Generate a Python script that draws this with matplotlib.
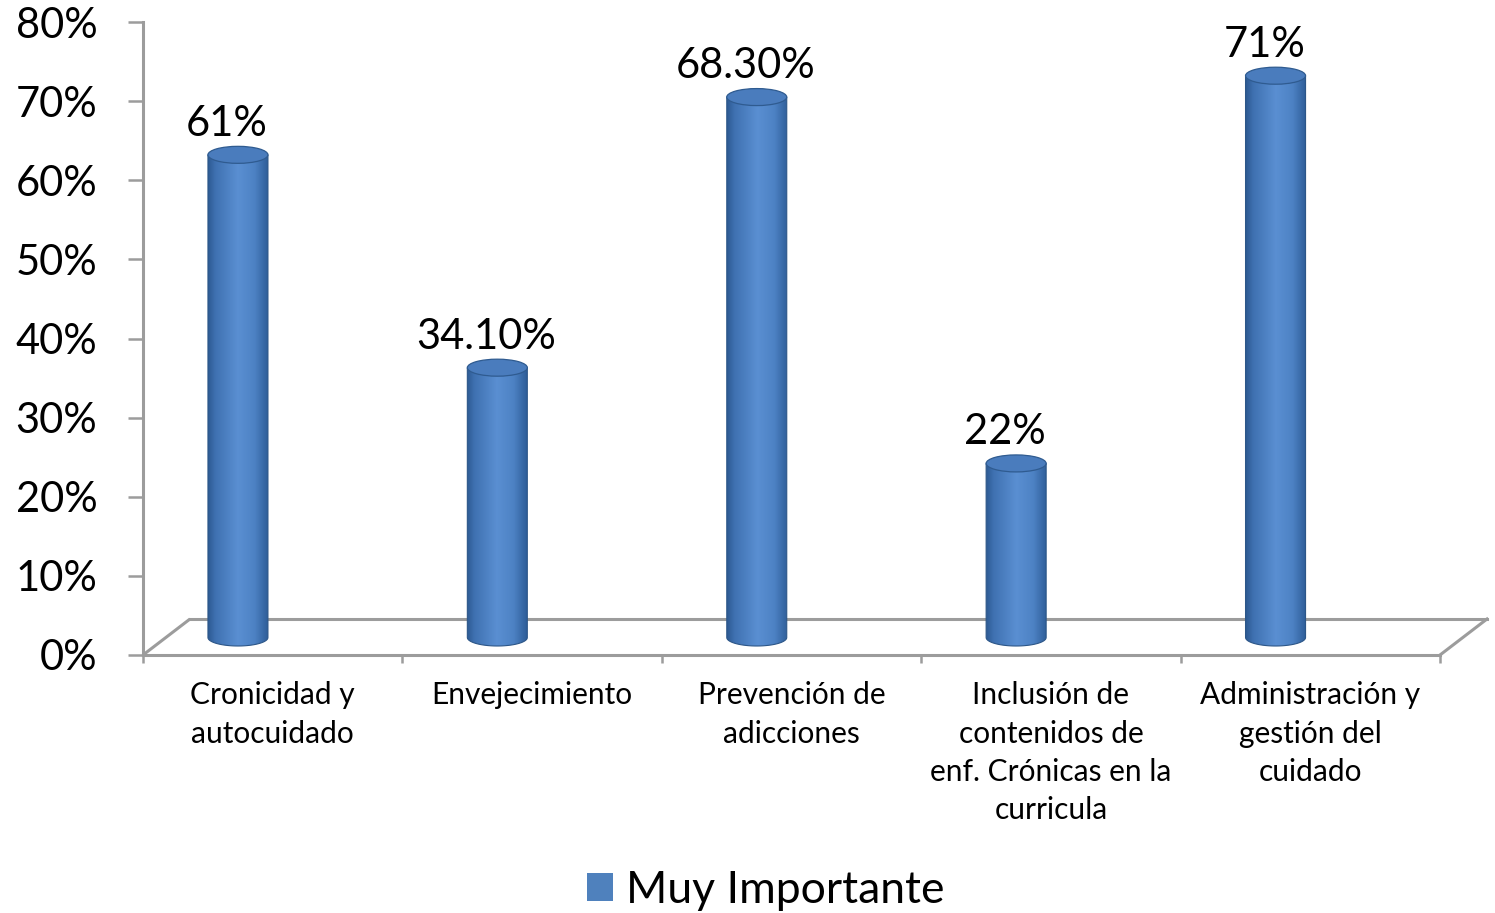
import numpy as np
import matplotlib
matplotlib.use("Agg")
import matplotlib.pyplot as plt
from matplotlib.path import Path
from matplotlib.patches import PathPatch, Ellipse, Patch
from matplotlib.colors import LinearSegmentedColormap

plt.rcParams['font.family'] = ['Lato', 'DejaVu Sans']

# data
categories = ["Cronicidad y\nautocuidado", "Envejecimiento", "Prevención de\nadicciones",
              "Inclusión de\ncontenidos de\nenf. Crónicas en la\ncurricula",
              "Administración y\ngestión del\ncuidado"]
values = [61, 34.1, 68.3, 22, 71]
value_labels = ["61%", "34.10%", "68.30%", "22%", "71%"]
yticks = [0, 10, 20, 30, 40, 50, 60, 70, 80]
ytick_labels = ["0%", "10%", "20%", "30%", "40%", "50%", "60%", "70%", "80%"]
series_name = "Muy Importante"

W, H = 1495, 913
fig = plt.figure(figsize=(W / 100, H / 100), dpi=100)
ax = fig.add_axes([143 / W, (H - 655) / H, 1297 / W, 633 / H])

n = len(categories)
px_x = 1297 / n          # pixels per category
px_y = 633 / 80          # pixels per percent
gray = '#9c9c9c'

# fake 3d floor
dx = 47 / px_x
dy = 36 / px_y
ax.plot([0, dx], [0, dy], color=gray, lw=2.2, clip_on=False, zorder=1, solid_capstyle='butt')
ax.plot([dx, n + dx], [dy, dy], color=gray, lw=2.2, clip_on=False, zorder=1)
ax.plot([n, n + dx], [0, dy], color=gray, lw=2.2, clip_on=False, zorder=1)

# cylinders
cmap = LinearSegmentedColormap.from_list("cyl", [
    (0.0, '#2d5a93'), (0.12, '#3f71b1'), (0.5, '#5a8fd2'),
    (0.78, '#4d82c4'), (1.0, '#2f5e99')])
grad = np.linspace(0, 1, 200).reshape(1, -1)
bw = 60 / px_x
eh = 17 / px_y
y0 = 17.5 / px_y
xoff = 0.366
for i, v in enumerate(values):
    cx = i + xoff
    y1 = y0 + v
    t = np.linspace(np.pi, 2 * np.pi, 60)
    xs = np.concatenate([[cx - bw / 2], cx + bw / 2 * np.cos(t), [cx + bw / 2]])
    ys = np.concatenate([[y1], y0 + eh / 2 * np.sin(t), [y1]])
    verts = np.column_stack([xs, ys])
    verts = np.vstack([verts, verts[:1]])
    path = Path(verts, closed=True)
    body = PathPatch(path, facecolor='none', edgecolor='#2c5688', lw=0.8, zorder=4)
    ax.add_patch(body)
    im = ax.imshow(grad, cmap=cmap, aspect='auto', zorder=3,
                   extent=[cx - bw / 2, cx + bw / 2, y0 - eh / 2, y1], interpolation='bilinear')
    im.set_clip_path(body)
    top = Ellipse((cx, y1), bw, eh, facecolor='#4a7cbd', edgecolor='#2f5b90', lw=0.9, zorder=5)
    ax.add_patch(top)
    ax.text(cx - 11 / px_x, y1 + 19 / px_y, value_labels[i], ha='center', va='baseline',
            fontsize=30, color='black', zorder=6)

ax.set_xlim(0, n)
ax.set_ylim(0, 80)

for s in ['top', 'right']:
    ax.spines[s].set_visible(False)
for s in ['left', 'bottom']:
    ax.spines[s].set_color(gray)
    ax.spines[s].set_linewidth(2.2)
ax.spines['left'].set_zorder(2)

ax.set_yticks(yticks)
ax.set_yticklabels(ytick_labels, fontsize=30)
ax.tick_params(axis='y', length=10.8, width=1.8, color=gray, pad=22)

ax.set_xticks(range(n + 1))
ax.set_xticklabels([])
ax.set_xticks(np.arange(n) + 0.5, minor=True)
ax.set_xticklabels(categories, minor=True, fontsize=21.5, linespacing=1.45)
ax.tick_params(axis='x', which='major', length=6, width=1.8, color=gray)
ax.tick_params(axis='x', which='minor', length=0, pad=19)

fig.legend(handles=[Patch(facecolor='#4f81bd', edgecolor='none', label=series_name)],
           loc='center', bbox_to_anchor=(766 / W, 23 / H), frameon=False, fontsize=32,
           handlelength=0.58, handleheight=0.58, handletextpad=0.3)

fig.savefig("out.png", dpi=100, facecolor='white')
